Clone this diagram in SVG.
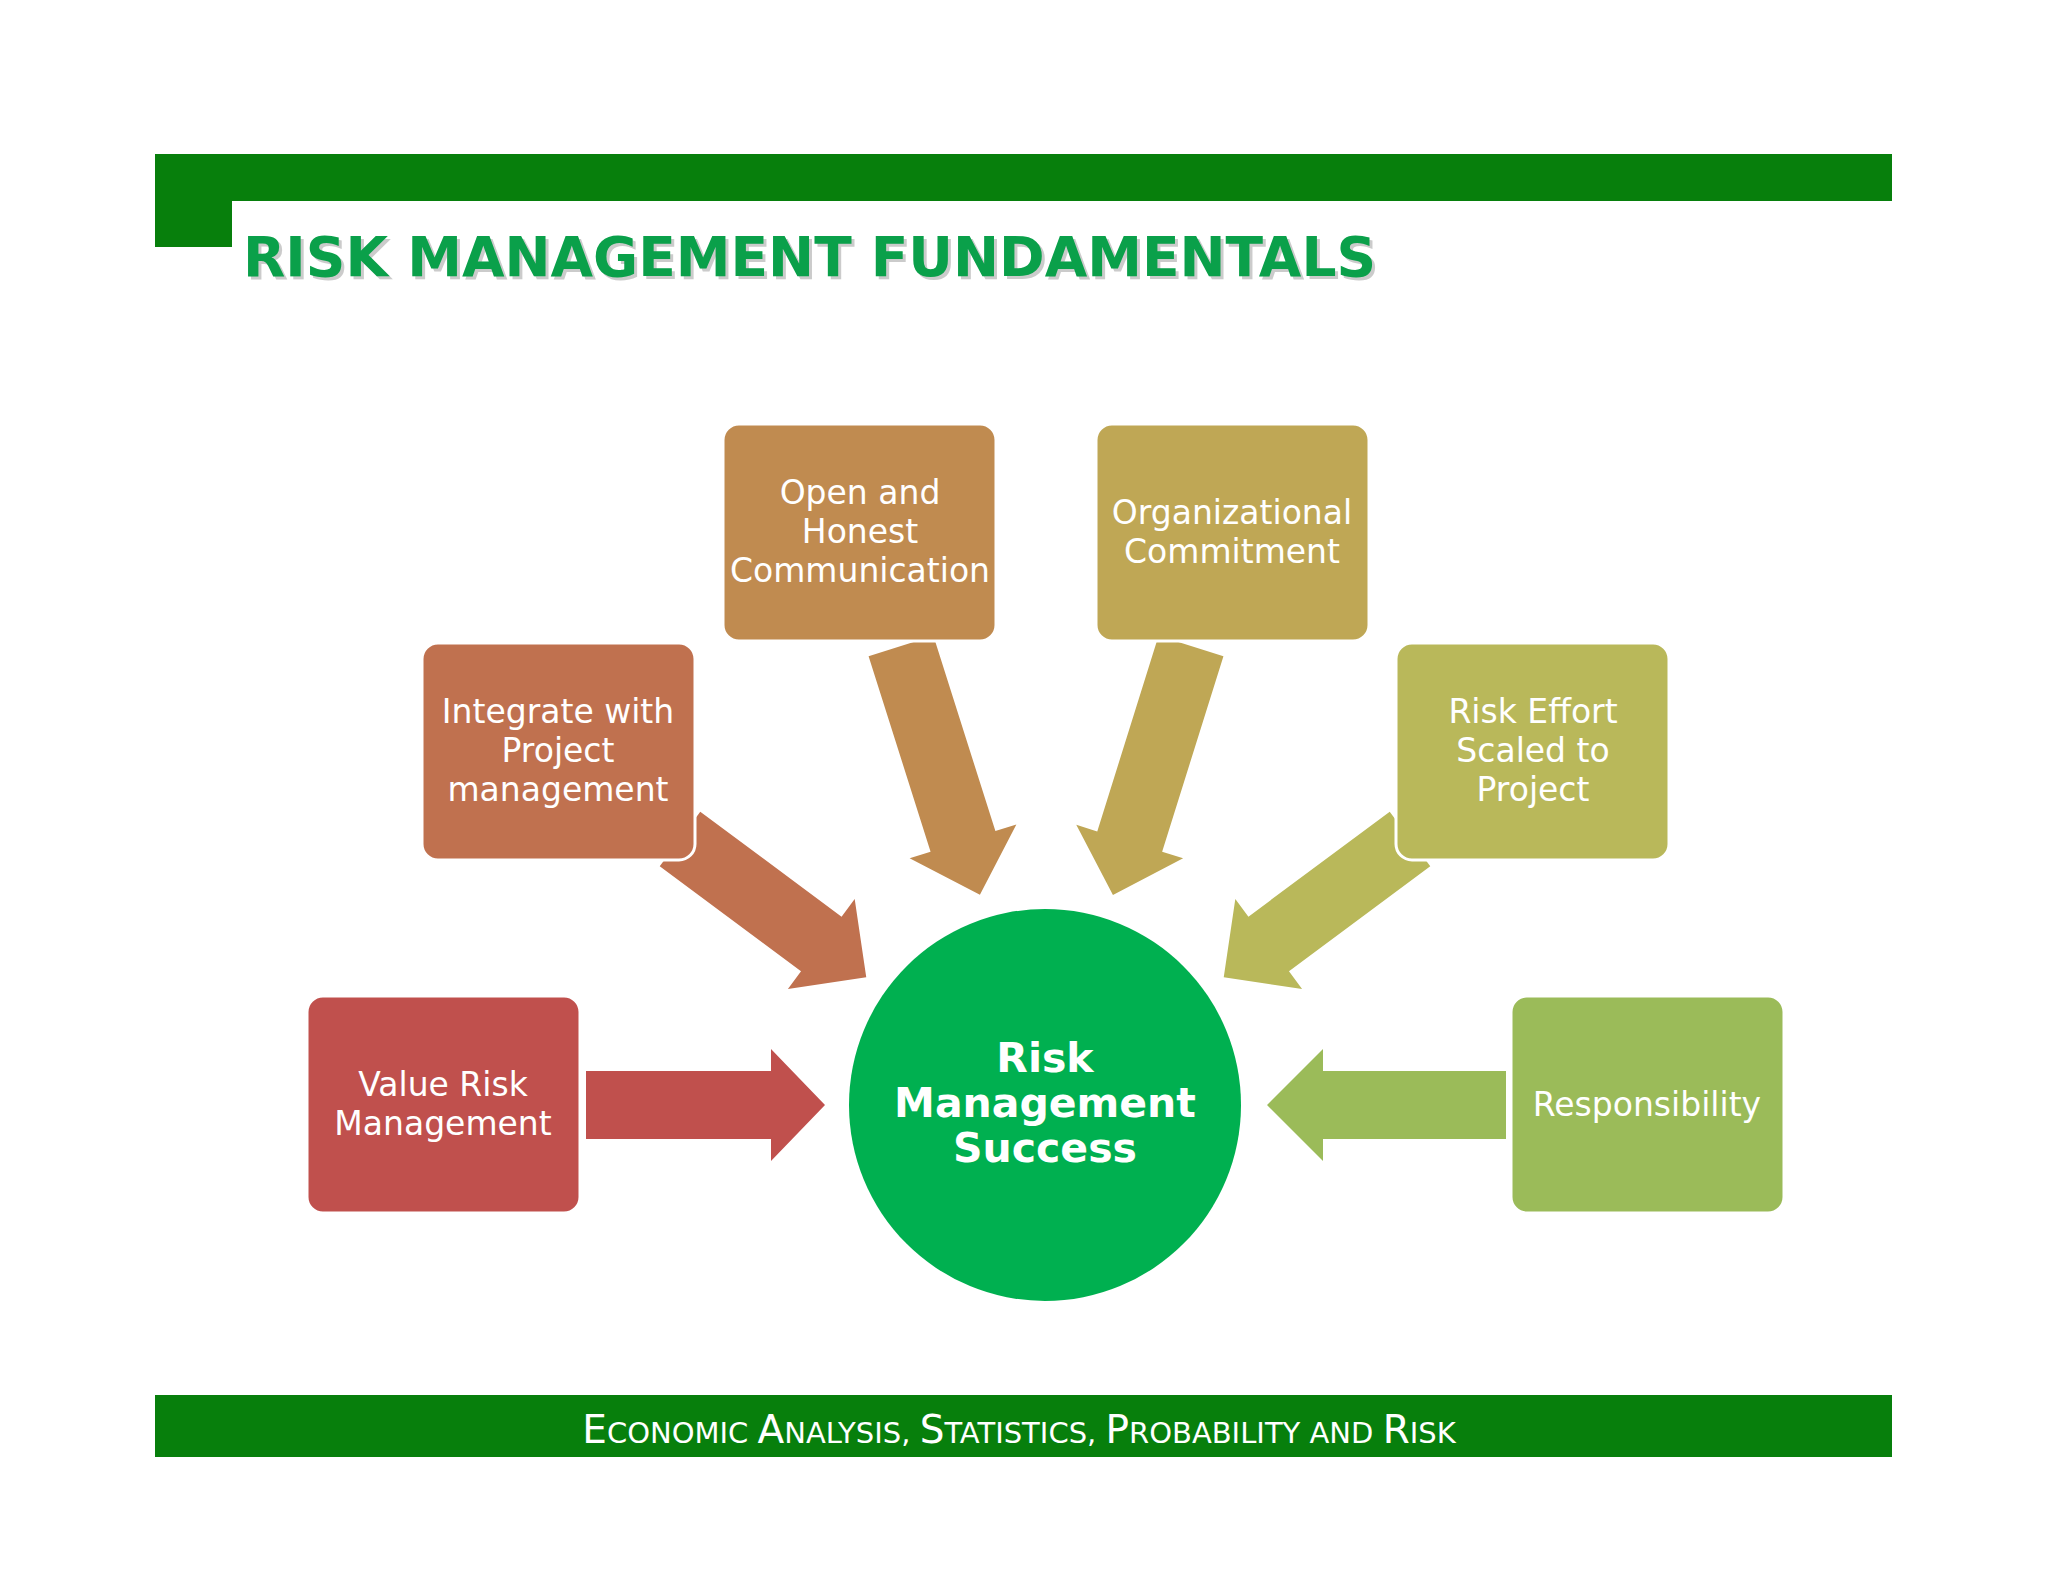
<svg xmlns="http://www.w3.org/2000/svg" width="2048" height="1582" viewBox="0 0 2048 1582">
<style>
.box text,.lbl{font-family:"DejaVu Sans",sans-serif;font-size:33px;fill:#fff;text-anchor:middle}
.box rect{stroke:#fff;stroke-width:3}
</style>
<defs>
<path id="arr" d="M0,-34 L L,-34 Z"/>
</defs>
<rect width="2048" height="1582" fill="#fff"/>
<rect x="155" y="154" width="1737" height="47" fill="#077f0c"/>
<rect x="155" y="154" width="77" height="93" fill="#077f0c"/>
<rect x="232" y="201" width="1660" height="60" fill="#fff"/>
<path d="M232,247 V222 Q232,201 253,201 H260 V247 Z" fill="#fff"/>
<text x="246" y="279" font-family="'DejaVu Sans',sans-serif" font-weight="bold" font-size="55" fill="#999" opacity="0.5">RISK MANAGEMENT FUNDAMENTALS</text>
<text x="243" y="276" font-family="'DejaVu Sans',sans-serif" font-weight="bold" font-size="55" fill="#0aa04a">RISK MANAGEMENT FUNDAMENTALS</text>
<rect x="155" y="1395" width="1737" height="62" fill="#077f0c"/>
<text x="1019" y="1443" font-family="'DejaVu Sans',sans-serif" font-size="29" fill="#fff" text-anchor="middle"><tspan font-size="39">E</tspan>CONOMIC <tspan font-size="39">A</tspan>NALYSIS, <tspan font-size="39">S</tspan>TATISTICS, <tspan font-size="39">P</tspan>ROBABILITY AND <tspan font-size="39">R</tspan>ISK</text>
<g id="connectors">
<path d="M586,1071 H771 V1049 L825,1105 L771,1161 V1139 H586 Z" fill="#c0504d"/>
<path d="M1506,1071 H1323 V1049 L1267,1105 L1323,1161 V1139 H1506 Z" fill="#9bbb59"/>
<path transform="translate(680,839) rotate(36.6)" d="M0,-34 H176 V-56 L232,0 L176,56 V34 H0 Z" fill="#c0714f"/>
<path transform="translate(901,646) rotate(72.4)" d="M0,-34 H205 V-56 L261,0 L205,56 V34 H0 Z" fill="#c08b50"/>
<path transform="translate(1191,646) rotate(107.4)" d="M0,-34 H205 V-56 L261,0 L205,56 V34 H0 Z" fill="#bfa755"/>
<path transform="translate(1410,839) rotate(143.4)" d="M0,-34 H176 V-56 L232,0 L176,56 V34 H0 Z" fill="#b9b85a"/>
</g>
<g id="center"><circle cx="1045" cy="1105" r="196" fill="#00b050"/>
<text class="lbl" x="1045" y="1072" font-weight="bold" font-size="42" style="font-size:41px;font-weight:bold"><tspan x="1045">Risk</tspan><tspan x="1045" dy="45">Management</tspan><tspan x="1045" dy="45">Success</tspan></text></g>
<g id="n1" class="box"><rect x="307" y="996" width="273" height="217" rx="16" fill="#c0504d"/><text x="443" y="1096"><tspan x="443">Value Risk</tspan><tspan x="443" dy="39">Management</tspan></text></g>
<g id="n2" class="box"><rect x="422" y="643" width="273" height="217" rx="16" fill="#c0714f"/><text x="558" y="723"><tspan x="558">Integrate with</tspan><tspan x="558" dy="39">Project</tspan><tspan x="558" dy="39">management</tspan></text></g>
<g id="n3" class="box"><rect x="723" y="424" width="273" height="217" rx="16" fill="#c08b50"/><text x="860" y="504"><tspan x="860">Open and</tspan><tspan x="860" dy="39">Honest</tspan><tspan x="860" dy="39">Communication</tspan></text></g>
<g id="n4" class="box"><rect x="1096" y="424" width="273" height="217" rx="16" fill="#bfa755"/><text x="1232" y="524"><tspan x="1232">Organizational</tspan><tspan x="1232" dy="39">Commitment</tspan></text></g>
<g id="n5" class="box"><rect x="1396" y="643" width="273" height="217" rx="16" fill="#b9b85a"/><text x="1533" y="723"><tspan x="1533">Risk Effort</tspan><tspan x="1533" dy="39">Scaled to</tspan><tspan x="1533" dy="39">Project</tspan></text></g>
<g id="n6" class="box"><rect x="1511" y="996" width="273" height="217" rx="16" fill="#9bbb59"/><text x="1647" y="1116">Responsibility</text></g>
</svg>
